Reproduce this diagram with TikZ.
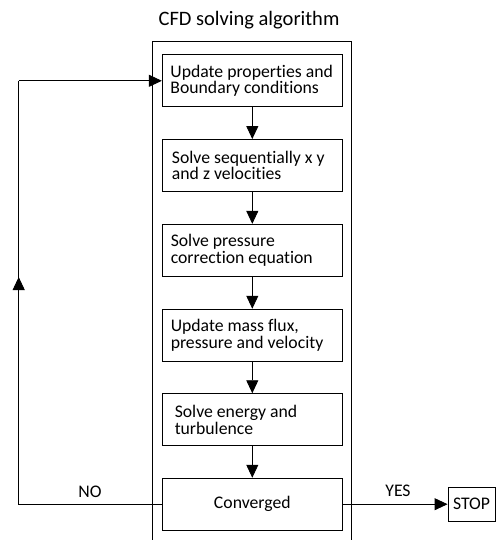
\documentclass[tikz,border=0pt]{standalone}
\usepackage{fontspec}
\setmainfont{Carlito}[Ligatures=NoCommon]
\usetikzlibrary{arrows.meta}
\begin{document}
\begin{tikzpicture}[x=1pt,y=-1pt,
  line width=0.9pt,
  stepbox/.style={draw, minimum width=180pt, minimum height=52pt, inner sep=0pt},
  boxtext/.style={anchor=west, align=left, font=\fontsize{17.7}{16.7}\selectfont, inner sep=0pt},
  lbl/.style={font=\fontsize{17.7}{16.7}\selectfont, inner sep=0pt},
  tip/.style={-{Triangle[length=13pt,width=12pt]}}]
\useasboundingbox (0,0) rectangle (496,540);
% title
\node[font=\fontsize{20.5}{22}\selectfont, inner sep=0pt] (title) at (249,20.5) {CFD solving algorithm};
% frame
\draw (152,545) -- (152,41.7) -- (351,41.7) -- (351,545);
% boxes
\node[stepbox] (b1) at (252.3,80.8) {};
\node[stepbox] (b2) at (252.3,165.5) {};
\node[stepbox] (b3) at (252.3,250.3) {};
\node[stepbox] (b4) at (252.3,335.2) {};
\node[stepbox] (b5) at (252.3,419.7) {};
\node[stepbox, font=\fontsize{17.7}{16.7}\selectfont] (b6) at (252.3,504.2) {Converged};
\node[boxtext] (t1) at (170,80.8) {Update properties and\\Boundary conditions};
\node[boxtext] (t2) at (171.5,165.5) {Solve sequentially x y\\and z velocities};
\node[boxtext] (t3) at (170.3,250.3) {Solve pressure\\correction equation};
\node[boxtext] (t4) at (170.3,335.2) {Update mass flux,\\pressure and velocity};
\node[boxtext] (t5) at (174.3,419.7) {Solve energy and\\turbulence};
% stop
\node[draw, minimum width=47pt, minimum height=33.7pt, inner sep=0pt,
      font=\fontsize{17.7}{16.7}\selectfont] (stop) at (471.5,504.2) {STOP};
% arrows between boxes
\draw[tip] (b1) -- (b2);
\draw[tip] (b2) -- (b3);
\draw[tip] (b3) -- (b4);
\draw[tip] (b4) -- (b5);
\draw[tip] (b5) -- (b6);
% yes
\draw[tip] (b6.east) -- (stop.west);
\node[lbl] (yes) at (398,490.5) {YES};
% loop
\coordinate (lb) at (18.7,504.2);
\coordinate (lm) at (18.7,277);
\coordinate (lt) at (18.7,80.8);
\draw (b6.west) -- (lb) -- (lt);
\draw[tip] (lt) -- (b1.west);
\draw[tip] (lb) -- (lm);
\node[lbl] (no) at (90,492) {NO};
\end{tikzpicture}
\end{document}
